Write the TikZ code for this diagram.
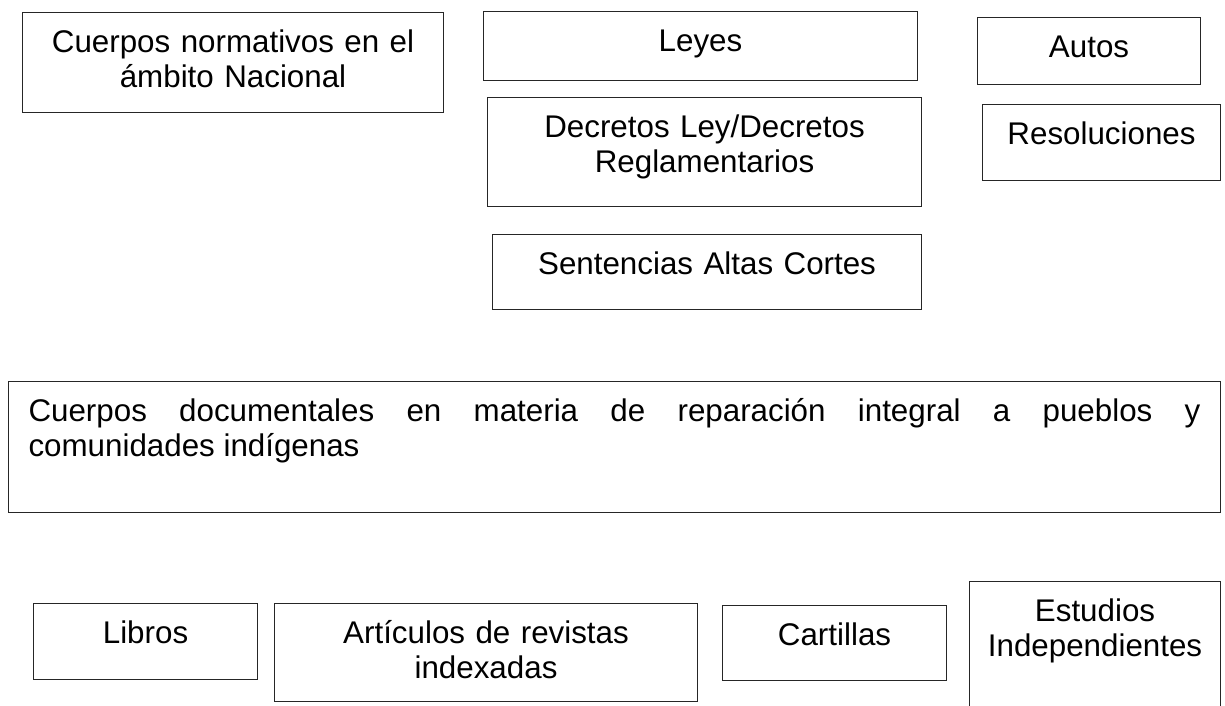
\documentclass[tikz,border=0pt]{standalone}
\usepackage{fontspec}
\setmainfont{Liberation Sans}
\usepackage{tikz}

\begin{document}
\begin{tikzpicture}[x=0.75pt, y=-0.75pt,
  box/.style={draw=black!85, line width=0.8pt, anchor=north west, align=center,
    inner xsep=0pt, inner ysep=0pt, text height=30pt,
    font=\fontsize{23.5}{26.25}\selectfont}]
\useasboundingbox (0,0) rectangle (1225,706);

\node[box, text width=315.75pt, text depth=45pt] (nacional) at (22,12) {Cuerpos normativos en el\\ámbito Nacional};
\node[box, text width=325.5pt, text depth=21.75pt] (leyes) at (483,11) {Leyes};
\node[box, text width=167.25pt, text depth=20.25pt] (autos) at (977,17) {Autos};
\node[box, text width=325.5pt, text depth=51.75pt] (decretos) at (487,97) {Decretos Ley/Decretos\\Reglamentarios};
\node[box, text width=178.5pt, text depth=27pt] (resoluciones) at (982,104) {Resoluciones};
\node[box, text width=321.75pt, text depth=26.25pt] (sentencias) at (492,234) {Sentencias Altas Cortes};

\node[box, align=justify, inner xsep=15pt, text width=879pt, text depth=68.25pt] (documentales) at (8,381)
  {Cuerpos documentales en materia de reparación integral a pueblos y\linebreak comunidades indígenas};

\node[box, text width=168pt, text depth=27pt] (libros) at (33,603) {Libros};
\node[box, text width=317.25pt, text depth=43.5pt] (articulos) at (274,603) {Artículos de revistas\\indexadas};
\node[box, text width=168pt, text depth=26.25pt] (cartillas) at (722,605) {Cartillas};
\node[box, text width=188.25pt, text depth=74.25pt] (estudios) at (969,581) {Estudios\\Independientes};
\end{tikzpicture}
\end{document}
